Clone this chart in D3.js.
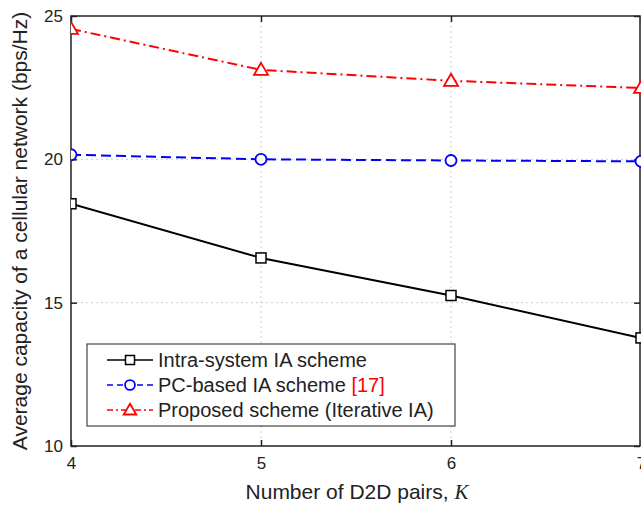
<!DOCTYPE html>
<html>
<head>
<meta charset="utf-8">
<script src="https://cdn.jsdelivr.net/npm/d3@7"></script>
<style>
  html, body { margin: 0; padding: 0; background: #fff; }
  svg { display: block; font-family: "Liberation Sans", Arial, sans-serif; }
</style>
</head>
<body>
<svg id="chart" width="641" height="510"></svg>
<script>
// Number of D2D pairs
const kValues = [4, 5, 6, 7];
// Average capacity (bps/Hz) per scheme
const intraSystemIA = [18.45, 16.56, 15.25, 13.77];
const pcBasedIA = [20.16, 20.0, 19.96, 19.93];
const proposedIterativeIA = [24.55, 23.12, 22.74, 22.49];
const yTicks = [10, 15, 20, 25];
const xTicks = [4, 5, 6, 7];

const svg = d3.select("#chart");
const margin = { left: 71, top: 16, right: 0, bottom: 64 };
const W = 641, H = 510;
const x = d3.scaleLinear().domain([4, 7]).range([margin.left, W - margin.right]);
const y = d3.scaleLinear().domain([10, 25]).range([H - margin.bottom, margin.top]);

const x0 = x.range()[0], x1 = x.range()[1];
const y0 = y.range()[0], y1 = y.range()[1];

// grid
const grid = svg.append("g").attr("stroke", "#cfcfcf").attr("stroke-width", 1).attr("stroke-dasharray", "2,3");
xTicks.slice(1, -1).forEach(t => grid.append("line").attr("x1", x(t)).attr("x2", x(t)).attr("y1", y1).attr("y2", y0));
yTicks.slice(1, -1).forEach(t => grid.append("line").attr("x1", x0).attr("x2", x1).attr("y1", y(t)).attr("y2", y(t)));

// axes with inward ticks
const axB = svg.append("g").attr("transform", `translate(0,${y0})`)
  .call(d3.axisBottom(x).tickValues(xTicks).tickSize(-6).tickPadding(11).tickFormat(d3.format("d")));
const axL = svg.append("g").attr("transform", `translate(${x0},0)`)
  .call(d3.axisLeft(y).tickValues(yTicks).tickSize(-6).tickPadding(8).tickFormat(d3.format("d")));
const axT = svg.append("g").attr("transform", `translate(0,${y1})`)
  .call(d3.axisTop(x).tickValues(xTicks).tickSize(-6).tickFormat(""));
const axR = svg.append("g").attr("transform", `translate(${x1 - 1},0)`)
  .call(d3.axisRight(y).tickValues(yTicks).tickSize(-6).tickFormat(""));
[axB, axL, axT, axR].forEach(a => {
  a.select(".domain").remove();
  a.selectAll(".tick line").attr("stroke", "#222").attr("stroke-width", 1.5);
  a.selectAll("text").attr("font-size", 17).attr("fill", "#222").attr("font-family", "Liberation Sans, Arial, sans-serif");
});

// frame
svg.append("rect").attr("x", x0).attr("y", y1).attr("width", x1 - x0 - 1).attr("height", y0 - y1)
  .attr("fill", "none").attr("stroke", "#222").attr("stroke-width", 1.5);

// clip
svg.append("clipPath").attr("id", "plotClip").append("rect")
  .attr("x", x0).attr("y", y1).attr("width", x1 - x0).attr("height", y0 - y1);

const series = [
  { name: "Intra-system IA scheme", values: intraSystemIA, color: "#000", dash: null, marker: "square" },
  { name: "PC-based IA scheme", ref: "[17]", values: pcBasedIA, color: "#0000ff", dash: "10,5", marker: "circle" },
  { name: "Proposed scheme (Iterative IA)", values: proposedIterativeIA, color: "#ff0000", dash: "10,4,2,4", marker: "triangle" }
];

const line = d3.line().x((d, i) => x(kValues[i])).y(d => y(d));
const plot = svg.append("g").attr("clip-path", "url(#plotClip)");

function drawMarker(g, type, cx, cy, color, s) {
  s = s || 1;
  if (type === "square") {
    g.append("rect").attr("x", cx - 5 * s).attr("y", cy - 5 * s).attr("width", 10 * s).attr("height", 10 * s)
      .attr("fill", "#fff").attr("stroke", color).attr("stroke-width", 1.5);
  } else if (type === "circle") {
    g.append("circle").attr("cx", cx).attr("cy", cy).attr("r", 5.5 * s)
      .attr("fill", "#fff").attr("stroke", color).attr("stroke-width", 1.8);
  } else {
    g.append("path").attr("d", `M${cx},${cy - 7 * s}L${cx + 7 * s},${cy + 5 * s}L${cx - 7 * s},${cy + 5 * s}Z`)
      .attr("fill", "#fff").attr("stroke", color).attr("stroke-width", 1.8);
  }
}

series.forEach(s => {
  plot.append("path").datum(s.values).attr("d", line).attr("fill", "none")
    .attr("stroke", s.color).attr("stroke-width", 2).attr("stroke-dasharray", s.dash);
  s.values.forEach((v, i) => drawMarker(plot, s.marker, x(kValues[i]), y(v), s.color));
});

// legend
const lg = svg.append("g");
lg.append("rect").attr("x", 87).attr("y", 344).attr("width", 368).attr("height", 82)
  .attr("fill", "#fff").attr("stroke", "#444").attr("stroke-width", 1.2);
series.forEach((s, i) => {
  const ly = 360 + i * 25;
  lg.append("line").attr("x1", 107).attr("x2", 153).attr("y1", ly).attr("y2", ly)
    .attr("stroke", s.color).attr("stroke-width", 1.5).attr("stroke-dasharray", s.dash ? (s.marker === "circle" ? "6,4" : "6,3,2,3") : null);
  drawMarker(lg, s.marker, 130, ly, s.color, 0.9);
  const t = lg.append("text").attr("x", 158).attr("y", ly + 7).attr("font-size", 20).attr("fill", "#222");
  t.append("tspan").text(s.name);
  if (s.ref) t.append("tspan").attr("fill", "#ff0000").text(" " + s.ref);
});

// axis titles
const xt = svg.append("text").attr("x", 357).attr("y", 499).attr("text-anchor", "middle")
  .attr("font-size", 21).attr("fill", "#222");
xt.append("tspan").text("Number of D2D pairs, ");
xt.append("tspan").attr("font-style", "italic").attr("font-family", "Liberation Serif, Times New Roman, serif").text("K");

svg.append("text").attr("transform", `translate(27,${(y0 + y1) / 2}) rotate(-90)`)
  .attr("text-anchor", "middle").attr("font-size", 21).attr("fill", "#222")
  .text("Average capacity of a cellular network (bps/Hz)");
</script>
</body>
</html>
